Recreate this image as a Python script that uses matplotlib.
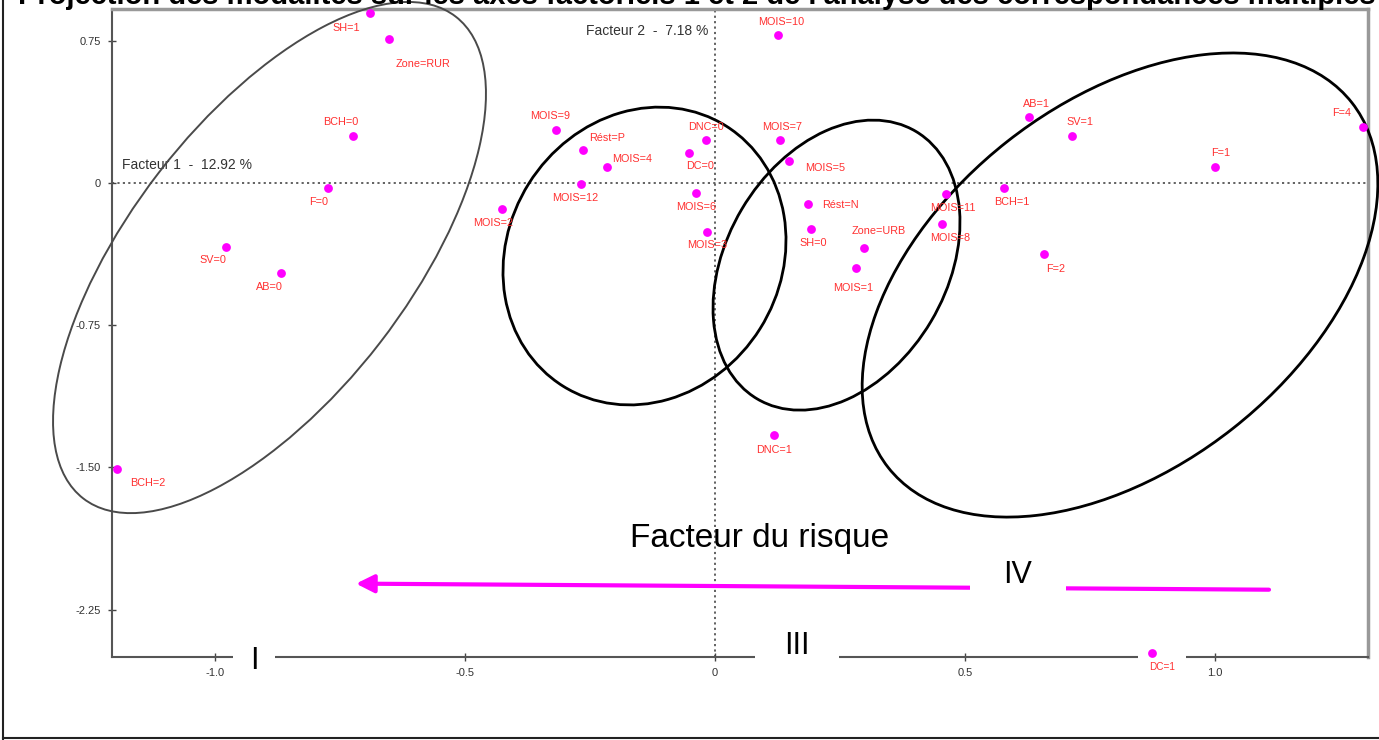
import matplotlib
matplotlib.use("Agg")
import matplotlib.pyplot as plt
from matplotlib.patches import Ellipse
from matplotlib.transforms import ScaledTranslation
from matplotlib.lines import Line2D

# modalities and their coordinates on factors 1 and 2
labels = ["SH=1", "Zone=RUR", "BCH=0", "F=0", "SV=0", "AB=0", "BCH=2",
          "MOIS=2", "MOIS=9", "Rést=P", "MOIS=4", "MOIS=12", "DNC=0", "DC=0",
          "MOIS=6", "MOIS=3", "MOIS=10", "MOIS=7", "MOIS=5", "Rést=N", "SH=0",
          "Zone=URB", "MOIS=1", "DNC=1", "MOIS=11", "MOIS=8", "BCH=1", "F=2",
          "AB=1", "SV=1", "F=1", "F=4", "DC=1"]
factor1 = [-0.690, -0.652, -0.724, -0.774, -0.978, -0.868, -1.196,
           -0.426, -0.318, -0.264, -0.216, -0.268, -0.018, -0.052,
           -0.038, -0.016, 0.126, 0.130, 0.148, 0.186, 0.192,
           0.298, 0.282, 0.118, 0.462, 0.454, 0.578, 0.658,
           0.628, 0.714, 1.000, 1.296, 0.874]
factor2 = [0.899, 0.760, 0.248, -0.026, -0.338, -0.475, -1.509,
           -0.137, 0.280, 0.174, 0.084, -0.005, 0.227, 0.158,
           -0.053, -0.259, 0.781, 0.227, 0.116, -0.111, -0.243,
           -0.343, -0.449, -1.330, -0.058, -0.216, -0.026, -0.375,
           0.348, 0.248, 0.084, 0.296, -2.480]

x_ticks = [-1.0, -0.5, 0, 0.5, 1.0]
x_tick_labels = ["-1.0", "-0.5", "0", "0.5", "1.0"]
y_ticks = [0.75, 0, -0.75, -1.5, -2.25]
y_tick_labels = ["0.75", "0", "-0.75", "-1.50", "-2.25"]

inertia1 = 12.92
inertia2 = 7.18

# where each label sits relative to its point (pixels, y downwards)
label_offsets = [(-24, 15), (34, 25), (-12, -14), (-9, 14), (-13, 13), (-12, 14), (31, 14),
                 (-9, 14), (-6, -14), (24, -12), (25, -8), (-6, 14), (0, -13), (11, 13),
                 (0, 14), (0, 13), (3, -13), (2, -13), (36, 7), (32, 1), (2, 14),
                 (15, -17), (-3, 20), (0, 15), (7, 14), (8, 14), (8, 14), (12, 15),
                 (7, -13), (8, -14), (6, -14), (-21, -14), (10, 14)]

# hand drawn groups: centre (data), width / height (px), angle, colour, width
groups = [((-0.891, -0.393), 609, 279, 52.3, "#4a4a4a", 1.4),
          ((-0.141, -0.385), 307, 273, 57.9, "black", 2.0),
          ((0.243, -0.433), 311, 220, 59.3, "black", 2.0),
          ((0.810, -0.538), 590, 365, 38.2, "black", 2.0)]

small = ["Liberation Sans Narrow", "Liberation Sans", "DejaVu Sans"]
big = ["Liberation Sans", "DejaVu Sans"]

fig = plt.figure(figsize=(13.79, 7.40), dpi=100)
ax = fig.add_axes([112 / 1379, 1 - 657 / 740, (1368 - 112) / 1379, (657 - 9) / 740])
ax.set_xlim(-1.206, 1.306)
ax.set_ylim(-2.50, 0.918)

ax.axhline(0, color="#555555", lw=1.3, linestyle=(0, (1.2, 1.8)), zorder=1)
ax.axvline(0, color="#555555", lw=1.3, linestyle=(0, (1.2, 1.8)), zorder=1)

ax.scatter(factor1, factor2, s=40, color="#ff00ff", zorder=6, clip_on=False, linewidths=0)

for name, x, y, (dx, dy) in zip(labels, factor1, factor2, label_offsets):
    if name == "DC=1":
        ax.annotate(name, (x, y), xytext=(dx, -dy), textcoords="offset pixels",
                    ha="center", va="center", fontsize=7.2, color="#ff3030",
                    family=small, zorder=5, annotation_clip=False,
                    bbox=dict(boxstyle="square,pad=1.1", fc="white", ec="none"))
    else:
        ax.annotate(name, (x, y), xytext=(dx, -dy), textcoords="offset pixels",
                    ha="center", va="center", fontsize=7.8, color="#ff3030",
                    family=small, zorder=5, annotation_clip=False)

for (cx, cy), w, h, ang, col, lw in groups:
    tr = fig.dpi_scale_trans + ScaledTranslation(cx, cy, ax.transData)
    ax.add_patch(Ellipse((0, 0), w / 100, h / 100, angle=ang, transform=tr,
                         fill=False, ec=col, lw=lw, zorder=4, clip_on=False))

ax.text(-1.186, 0.095, f"Facteur 1  -  {inertia1:.2f} %", fontsize=10, color="#333333",
        family=small, va="center", ha="left")
ax.text(-0.014, 0.802, f"Facteur 2  -  {inertia2:.2f} %", fontsize=10, color="#333333",
        family=small, va="center", ha="right")

# risk arrow and group numbers
ax.annotate("", xy=(-0.718, -2.113), xytext=(1.108, -2.145),
            arrowprops=dict(arrowstyle="-|>,head_length=0.6,head_width=0.3",
                            color="#ff00ff", lw=3, mutation_scale=18,
                            shrinkA=0, shrinkB=0), zorder=3)
ax.text(0.09, -1.873, "Facteur du risque", fontsize=24, family=big, ha="center", va="center")
ax.text(0.606, -2.069, "IV", fontsize=22, family=big, ha="center", va="center", zorder=5,
        bbox=dict(boxstyle="square,pad=1.1", fc="white", ec="none"))
ax.text(0.164, -2.443, "III", fontsize=22, family=big, ha="center", va="center", zorder=5,
        clip_on=False, bbox=dict(boxstyle="square,pad=0.95", fc="white", ec="none"))
ax.text(-0.922, -2.522, "I", fontsize=22, family=big, ha="center", va="center", zorder=5,
        clip_on=False, bbox=dict(boxstyle="square,pad=0.55", fc="white", ec="none"))

ax.set_xticks(x_ticks, x_tick_labels, fontfamily=small)
ax.set_yticks(y_ticks, y_tick_labels, fontfamily=small)
ax.tick_params(direction="inout", length=6, width=1, colors="#444444",
               labelsize=8, labelcolor="#333333", pad=5)
for side in ["left", "bottom"]:
    ax.spines[side].set_color("#555555")
    ax.spines[side].set_linewidth(1.5)
for side in ["top", "right"]:
    ax.spines[side].set_color("#999999")
    ax.spines[side].set_linewidth(2.5)

# cropped title and frame of the original slide
fig.text(18 / 1379, 1 - 4 / 740,
         "Projection des modalités sur les axes factoriels 1 et 2 de l'analyse des correspondances multiples",
         fontsize=21, fontweight="bold", family=big, ha="left", va="baseline")
fig.add_artist(Line2D([3 / 1379, 3 / 1379], [0, 1], color="#222222", lw=1.5,
                      transform=fig.transFigure))
fig.add_artist(Line2D([3 / 1379, 1], [2 / 740, 2 / 740], color="#222222", lw=1.5,
                      transform=fig.transFigure))

fig.savefig("out.png", dpi=100)
